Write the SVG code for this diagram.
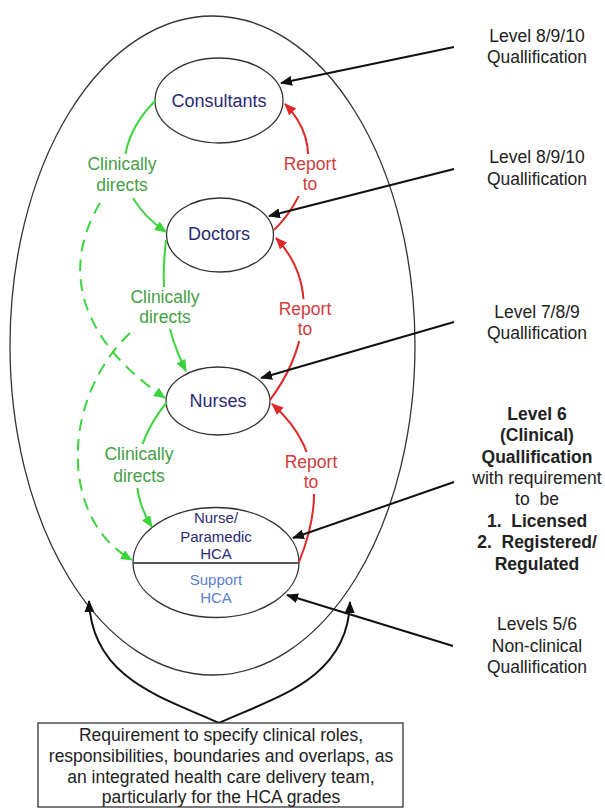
<svg xmlns="http://www.w3.org/2000/svg" width="605" height="808" viewBox="0 0 605 808">
<style>
text{font-family:"Liberation Sans",Arial,sans-serif;text-anchor:middle}
.node{fill:#fff;stroke:#333;stroke-width:1.3}
.nt{font-size:18px;fill:#2a2a72}
.ht{font-size:15px;fill:#2a2a72}
.st{font-size:15px;fill:#5b7fcf}
.gl{font-size:17.5px;fill:#45a045}
.rl{font-size:17.5px;fill:#d03c3c}
.rt{font-size:17.5px;fill:#222}
.b{font-weight:bold}
.lb{fill:#fff;stroke:none}
.blk{stroke:#111;stroke-width:2;fill:none;marker-end:url(#ab)}
.grn{stroke:#3cd43c;stroke-width:2;fill:none;marker-end:url(#ag)}
.gd{stroke:#3cd43c;stroke-width:2;fill:none;stroke-dasharray:12 8;marker-end:url(#ag)}
.red{stroke:#e02828;stroke-width:2;fill:none;marker-end:url(#ar)}
</style>
<defs>
<marker id="ab" markerUnits="userSpaceOnUse" markerWidth="12" markerHeight="10" refX="11" refY="5" orient="auto"><path d="M0,0 L12,5 L0,10 Z" fill="#111"/></marker>
<marker id="ag" markerUnits="userSpaceOnUse" markerWidth="12" markerHeight="10" refX="11" refY="5" orient="auto"><path d="M0,0 L12,5 L0,10 Z" fill="#3cd43c"/></marker>
<marker id="ar" markerUnits="userSpaceOnUse" markerWidth="12" markerHeight="10" refX="11" refY="5" orient="auto"><path d="M0,0 L12,5 L0,10 Z" fill="#e02828"/></marker>
</defs>
<rect width="605" height="808" fill="#fff"/>
<g id="team">
<ellipse cx="212.5" cy="345.5" rx="202.5" ry="329.5" fill="none" stroke="#333" stroke-width="1.3"/>
</g>
<g id="consultants">
<ellipse class="node" cx="219" cy="100.5" rx="64" ry="42.5"/>
<text class="nt" x="219" y="107">Consultants</text>
</g>
<g id="doctors">
<ellipse class="node" cx="220" cy="235" rx="53.5" ry="37"/>
<text class="nt" x="219" y="240">Doctors</text>
</g>
<g id="nurses">
<ellipse class="node" cx="218" cy="401" rx="52" ry="34"/>
<text class="nt" x="218" y="407">Nurses</text>
</g>
<g id="hca">
<ellipse class="node" cx="216" cy="562.5" rx="83" ry="55"/>
<line x1="133" y1="563" x2="299" y2="563" stroke="#555" stroke-width="2"/>
<text class="ht" x="216" y="523">Nurse/</text>
<text class="ht" x="216" y="542">Paramedic</text>
<text class="ht" x="216" y="559">HCA</text>
<text class="st" x="216" y="585">Support</text>
<text class="st" x="216" y="603">HCA</text>
</g>
<g id="connectors">
<path class="grn" d="M156,100 C120,135 105,190 166,232"/>
<path class="grn" d="M166,240 C160,290 165,330 186,371"/>
<path class="grn" d="M167,402 C132,445 128,490 152,527"/>
<path class="gd" d="M100,203 C60,270 80,340 165,398"/>
<path class="gd" d="M130,333 C60,400 60,520 132,560"/>
<path class="red" d="M274,230 C300,205 330,150 285,104"/>
<path class="red" d="M270,400 C300,360 325,290 276,238"/>
<path class="red" d="M299,562 C320,510 325,450 272,404"/>
<path class="blk" d="M454,47 L281,83"/>
<path class="blk" d="M454,169 L269,216"/>
<path class="blk" d="M454,322 L261,378"/>
<path class="blk" d="M454,482 L293,538"/>
<path class="blk" d="M453,646 L287,595"/>
<path class="blk" d="M219,723 C165,698 92,680 89,601"/>
<path class="blk" d="M219,723 C273,698 348,680 350,602"/>
</g>
<g id="label-clin1">
<rect class="lb" x="84" y="154" width="76" height="44"/>
<text class="gl" x="122" y="170">Clinically</text>
<text class="gl" x="122" y="191">directs</text>
</g>
<g id="label-clin2">
<rect class="lb" x="127" y="287" width="76" height="42"/>
<text class="gl" x="165" y="303">Clinically</text>
<text class="gl" x="165" y="323">directs</text>
</g>
<g id="label-clin3">
<rect class="lb" x="101" y="444" width="76" height="44"/>
<text class="gl" x="139" y="460">Clinically</text>
<text class="gl" x="139" y="482">directs</text>
</g>
<g id="label-rep1">
<rect class="lb" x="281" y="154" width="58" height="42"/>
<text class="rl" x="310" y="170">Report</text>
<text class="rl" x="310" y="190">to</text>
</g>
<g id="label-rep2">
<rect class="lb" x="276" y="299" width="58" height="42"/>
<text class="rl" x="305" y="315">Report</text>
<text class="rl" x="305" y="335">to</text>
</g>
<g id="label-rep3">
<rect class="lb" x="282" y="452" width="58" height="42"/>
<text class="rl" x="311" y="468">Report</text>
<text class="rl" x="311" y="488">to</text>
</g>
<g id="q1">
<text class="rt" x="537" y="42">Level 8/9/10</text>
<text class="rt" x="537" y="63">Quallification</text>
</g>
<g id="q2">
<text class="rt" x="537" y="163">Level 8/9/10</text>
<text class="rt" x="537" y="185">Quallification</text>
</g>
<g id="q3">
<text class="rt" x="537" y="318">Level 7/8/9</text>
<text class="rt" x="537" y="339">Quallification</text>
</g>
<g id="q4">
<text class="rt b" x="537" y="420">Level 6</text>
<text class="rt b" x="537" y="441">(Clinical)</text>
<text class="rt b" x="537" y="463">Quallification</text>
<text class="rt" x="537" y="484">with requirement</text>
<text class="rt" x="537" y="505" xml:space="preserve">to  be</text>
<text class="rt b" x="537" y="527" xml:space="preserve">1.  Licensed</text>
<text class="rt b" x="537" y="548" xml:space="preserve">2.  Registered/</text>
<text class="rt b" x="537" y="570">Regulated</text>
</g>
<g id="q5">
<text class="rt" x="537" y="630">Levels 5/6</text>
<text class="rt" x="537" y="652">Non-clinical</text>
<text class="rt" x="537" y="673">Quallification</text>
</g>
<g id="requirement">
<rect x="38" y="723" width="365" height="84" fill="#fff" stroke="#333" stroke-width="1.3"/>
<text class="rt" x="221" y="741">Requirement to specify clinical roles,</text>
<text class="rt" x="221" y="762">responsibilities, boundaries and overlaps, as</text>
<text class="rt" x="221" y="783">an integrated health care delivery team,</text>
<text class="rt" x="221" y="803">particularly for the HCA grades</text>
</g>
</svg>
